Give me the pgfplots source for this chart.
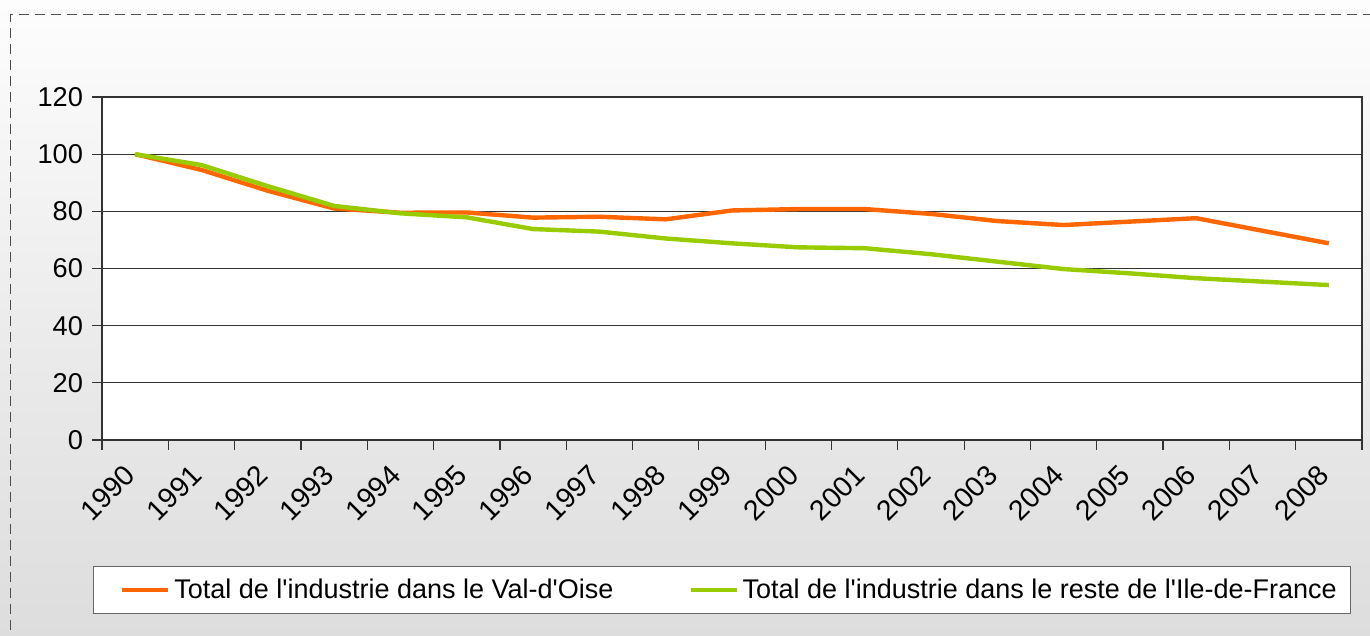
\documentclass[border=0pt]{standalone}
\usepackage{fontspec}
\setmainfont{Liberation Sans}
\usepackage{pgfplots}
\pgfplotsset{compat=1.18}
\definecolor{orangeL}{RGB}{255,102,0}
\definecolor{greenL}{RGB}{153,204,0}
\definecolor{bgbot}{RGB}{221,221,221}
\definecolor{bgtop}{RGB}{253,253,253}
\begin{document}
\begin{tikzpicture}[font=\fontsize{13.6pt}{15.6pt}\selectfont]
\clip (0,0) rectangle (685pt,318pt);
\shade[top color=bgtop, bottom color=bgbot, middle color={rgb,255:red,236;green,236;blue,236}] (0,0) rectangle (685pt,318pt);
\draw[gray!60!black, line width=0.5pt, dash pattern=on 5pt off 3pt] (5pt,-5pt) -- (5pt,310.5pt) -- (690pt,310.5pt);
\begin{axis}[
  at={(51pt,98pt)}, anchor=south west,
  scale only axis, width=630pt, height=171.5pt,
  xmin=-0.5, xmax=18.5, ymin=0, ymax=120,
  ytick={0,20,...,120},
  xtick={-0.5,0.5,...,18.5},
  xticklabels={},
  xtick pos=lower, ytick pos=left,
  extra x ticks={0,1,...,18},
  extra x tick labels={1990,1991,1992,1993,1994,1995,1996,1997,1998,1999,2000,2001,2002,2003,2004,2005,2006,2007,2008},
  extra x tick style={major tick length=0pt, xticklabel style={font=\fontsize{14.2pt}{17pt}\selectfont, rotate=45, anchor=east, xshift=-9pt, yshift=-9pt}},
  tick align=outside, major tick length=5pt,
  tick style={black!80, line width=0.6pt},
  ymajorgrids, grid style={black!80, line width=0.6pt},
  axis line style={black!80, line width=0.6pt},
  axis background/.style={fill=white},
  /pgf/number format/assume math mode=true,
  yticklabel style={xshift=-1pt},
  legend columns=2,
  legend style={at={(axis description cs:0.492,-0.437)}, anchor=center, draw=black!60, fill=white, line width=0.5pt, inner xsep=5pt, inner ysep=4pt,
    font=\fontsize{13.5pt}{15.6pt}\selectfont,
    /tikz/every even column/.append style={column sep=27pt}},
  legend cell align=left,
  legend image code/.code={\path (0pt,0pt); \draw[#1, line width=2pt] (8.5pt,0pt) -- (31.5pt,0pt);},
]
\addplot[orangeL, line width=2.2pt, line join=round] coordinates {
(0,100) (1,94.5) (2,87.2) (3,81.0) (4,79.5) (5,79.6) (6,77.8) (7,78.1) (8,77.2) (9,80.3)
(10,80.8) (11,80.8) (12,79.1) (13,76.6) (14,75.2) (15,76.4) (16,77.6) (17,73.2) (18,68.8)};
\addlegendentry{Total de l\textquotesingle industrie dans le Val-d\textquotesingle Oise}
\addplot[greenL, line width=2.2pt, line join=round] coordinates {
(0,100) (1,96.2) (2,88.8) (3,81.9) (4,79.3) (5,77.9) (6,73.8) (7,72.9) (8,70.5) (9,68.8)
(10,67.4) (11,67.1) (12,65.0) (13,62.4) (14,59.8) (15,58.3) (16,56.6) (17,55.4) (18,54.2)};
\addlegendentry{Total de l\textquotesingle industrie dans le reste de l\textquotesingle Ile-de-France}
\end{axis}
\end{tikzpicture}
\end{document}
